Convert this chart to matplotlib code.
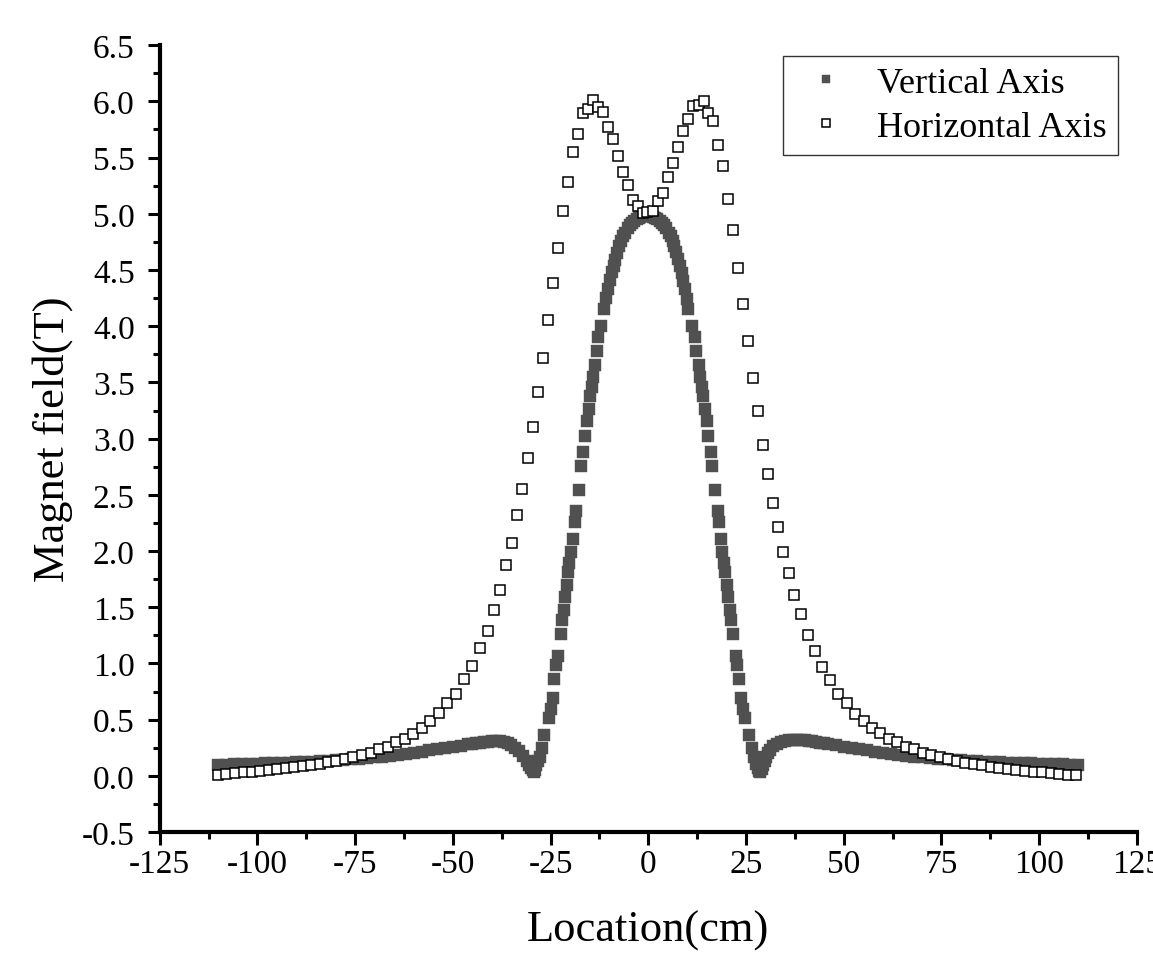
import numpy as np
import matplotlib
matplotlib.use("Agg")
import matplotlib.pyplot as plt
from matplotlib.ticker import MultipleLocator

# ---------------- data ---------------- #
# Vertical Axis (filled squares): location (cm) and field (T)
vert_x = [
    -110, -108, -106, -104, -102, -100, -98, -96, -94, -92, -90, -88, -86, -84,
    -82, -80, -78, -76, -74, -72, -70, -68, -66, -64, -62, -60, -58, -56, -54,
    -52, -50, -48, -46, -45, -44, -43, -42, -41, -40, -39, -38, -37, -36, -35,
    -34, -33, -32, -31, -30.5, -30, -29.6, -29.3, -29.0, -28.6, -28.2,
    -27.77, -27.18, -26.57, -25.47, -24.96, -24.44, -24.11, -23.5, -23.17,
    -22.4, -22.07, -21.63, -21.2, -20.87, -20.54, -20.18, -19.77, -19.34,
    -18.83, -18.49, -17.8, -17.11, -16.7, -16.09, -15.68, -15.25, -14.81,
    -14.48, -14.15, -13.64, -13.0, -12.75, -12.0, -11.24,
    -10.8, -10.3, -9.8, -9.3, -8.86, -8.4, -7.9, -7.41, -6.9, -6.4, -5.88,
    -5.3, -4.8, -4.19, -3.6, -3.0, -2.48, -2.0, -1.4, -0.9, -0.36, 0.2, 0.7,
    1.2, 1.79, 2.3, 2.9, 3.48, 4.0, 4.6, 5.19, 5.7, 6.2, 6.64, 7.1, 7.6, 8.17,
    8.6, 9.0, 9.45, 9.9,
    10.29, 11.24, 11.83, 12.16, 12.93, 13.36, 13.69, 14.1, 14.56, 14.98, 15.4,
    16.0, 16.43, 17.11, 17.79, 18.13, 18.64, 18.98, 19.32, 19.67, 20.08, 20.51,
    20.94, 21.28, 21.61, 22.38, 22.72, 23.32, 23.75, 24.27, 24.78, 25.87, 26.46,
    27.08, 27.6, 28.0, 28.3, 28.6, 29.0, 29.4, 29.8, 30.2, 30.7, 31.2, 32, 33,
    34, 35, 36, 37, 38, 39, 40, 41, 42, 43, 44, 45, 46, 48, 50, 52, 54, 56, 58,
    60, 62, 64, 66, 68, 70, 72, 74, 76, 78, 80, 82, 84, 86, 88, 90, 92, 94, 96,
    98, 100, 102, 104, 106, 108, 110,
]
vert_b = [
    0.100, 0.101, 0.103, 0.105, 0.107, 0.109, 0.111, 0.113, 0.116, 0.118, 0.121,
    0.124, 0.127, 0.130, 0.134, 0.138, 0.142, 0.147, 0.152, 0.158, 0.164, 0.171,
    0.178, 0.186, 0.195, 0.205, 0.215, 0.226, 0.237, 0.248, 0.259, 0.270, 0.281,
    0.286, 0.291, 0.296, 0.301, 0.305, 0.308, 0.309, 0.307, 0.300, 0.290, 0.275,
    0.250, 0.218, 0.180, 0.130, 0.098, 0.070, 0.048, 0.035, 0.055, 0.095, 0.135,
    0.170, 0.250, 0.362, 0.511, 0.599, 0.694, 0.860, 0.984, 1.067,
    1.259, 1.384, 1.472, 1.591, 1.701, 1.813, 1.896, 1.996, 2.109,
    2.257, 2.352, 2.547, 2.760, 2.879, 3.027, 3.160, 3.264, 3.376,
    3.456, 3.545, 3.657, 3.780, 3.900, 4.004, 4.152,
    4.250, 4.330, 4.410, 4.480, 4.536, 4.590, 4.650, 4.714, 4.760, 4.800, 4.833,
    4.870, 4.900, 4.922, 4.940, 4.955, 4.966, 4.975, 4.982, 4.986, 4.987, 4.985,
    4.982, 4.975, 4.966, 4.955, 4.940, 4.922, 4.900, 4.870, 4.833, 4.800, 4.760,
    4.714, 4.660, 4.600, 4.536, 4.470, 4.400, 4.330, 4.240,
    4.152, 4.004, 3.900, 3.780, 3.657, 3.545, 3.456, 3.376, 3.264, 3.160, 3.027,
    2.879, 2.760, 2.547, 2.352, 2.257, 2.109, 1.996, 1.896, 1.813, 1.701, 1.591,
    1.472, 1.384, 1.259, 1.067, 0.984, 0.860, 0.694, 0.599, 0.511, 0.362, 0.250,
    0.170, 0.110, 0.070, 0.045, 0.035, 0.060, 0.095, 0.130, 0.165, 0.200, 0.230,
    0.262, 0.288, 0.303, 0.313, 0.318, 0.320, 0.320, 0.318, 0.315, 0.311, 0.306,
    0.301, 0.296, 0.290, 0.284, 0.272, 0.260, 0.248, 0.237, 0.226, 0.215, 0.205,
    0.195, 0.186, 0.178, 0.171, 0.164, 0.158, 0.152, 0.147, 0.142, 0.138, 0.134,
    0.130, 0.127, 0.124, 0.121, 0.118, 0.116, 0.113, 0.111, 0.109, 0.107, 0.105,
    0.103, 0.101, 0.100,
]

# Horizontal Axis (open squares)
horiz_x = [
    -110.0, -107.97, -105.75, -103.55, -101.4, -99.21, -96.99, -94.86, -92.72,
    -90.52, -88.38, -86.18, -84.03, -81.91, -79.79, -77.57, -75.45, -73.23,
    -71.01, -68.89, -66.67, -64.55, -62.33, -60.13, -57.98, -55.86, -53.64,
    -51.44, -49.22, -47.10, -45.06, -43.09, -41.05, -39.52, -37.81, -36.37,
    -34.84, -33.46, -32.19, -30.83, -29.55, -28.28, -27.0, -25.72, -24.44,
    -23.17, -21.89, -20.61, -19.34, -17.98, -16.78, -15.43, -14.15, -12.87,
    -11.60, -10.32, -9.04, -7.76, -6.49, -5.21, -3.83, -2.55, -1.40, -0.30,
    1.30, 2.58, 3.78, 5.11, 6.39, 7.66, 8.94, 10.22, 11.57, 12.85, 14.13, 15.33,
    16.68, 17.96, 19.23, 20.51, 21.79, 23.07, 24.34, 25.62, 26.90, 28.17, 29.45,
    30.73, 32.0, 33.28, 34.56, 36.0, 37.37, 39.08, 40.77, 42.66, 44.52, 46.4,
    48.61, 50.73, 52.95, 55.08, 57.21, 59.41, 61.55, 63.76, 65.98, 68.10, 70.32,
    72.45, 74.66, 76.79, 79.0, 81.13, 83.26, 85.47, 87.69, 89.81, 92.03, 94.15,
    96.37, 98.59, 100.71, 102.94, 105.13, 107.28, 109.48,
]
horiz_b = [
    0.005, 0.016, 0.022, 0.031, 0.037, 0.046, 0.055, 0.060, 0.067,
    0.075, 0.084, 0.096, 0.105, 0.120, 0.135, 0.153, 0.164, 0.185,
    0.203, 0.235, 0.256, 0.300, 0.330, 0.377, 0.425, 0.490, 0.555,
    0.644, 0.730, 0.860, 0.979, 1.138, 1.292, 1.479, 1.650, 1.872,
    2.074, 2.320, 2.556, 2.831, 3.101, 3.415, 3.720, 4.057, 4.383,
    4.700, 5.022, 5.280, 5.552, 5.712, 5.895, 5.934, 6.011, 5.946,
    5.907, 5.774, 5.662, 5.517, 5.368, 5.253, 5.125, 5.069, 5.005, 5.020,
    5.025, 5.110, 5.185, 5.327, 5.451, 5.597, 5.739, 5.842, 5.957, 5.966, 6.002, 5.899,
    5.824, 5.608, 5.422, 5.129, 4.853, 4.522, 4.196, 3.870, 3.542, 3.246, 2.944,
    2.689, 2.423, 2.213, 1.991, 1.807, 1.609, 1.437, 1.250, 1.112, 0.966, 0.851,
    0.730, 0.644, 0.552, 0.490, 0.425, 0.380, 0.330, 0.300, 0.259, 0.235, 0.206,
    0.185, 0.164, 0.147, 0.132, 0.114, 0.105, 0.093, 0.082, 0.073, 0.064, 0.055,
    0.046, 0.037, 0.031, 0.022, 0.016, 0.011, 0.004,
]

x_ticks = [-125, -100, -75, -50, -25, 0, 25, 50, 75, 100, 125]
y_ticks = [-0.5, 0.0, 0.5, 1.0, 1.5, 2.0, 2.5, 3.0, 3.5, 4.0, 4.5, 5.0, 5.5, 6.0, 6.5]

# ---------------- figure ---------------- #
plt.rcParams['font.family'] = ['Liberation Serif', 'DejaVu Serif']
plt.rcParams['axes.unicode_minus'] = False

fig = plt.figure(figsize=(11.53, 9.62), dpi=100)
ax = fig.add_axes([0.1385, 0.134, 0.8475, 0.818])

ax.plot(vert_x, vert_b, ls='none', marker='s', ms=8.0, color='#505050',
        mec='#505050', mew=0.3, label='Vertical Axis')
ax.plot(horiz_x, horiz_b, ls='none', marker='s', ms=6.8, mfc='white',
        mec='black', mew=1.1, label='Horizontal Axis')

ax.set_xlim(-125, 125)
ax.set_ylim(-0.5, 6.5)
ax.set_xticks(x_ticks)
ax.set_yticks(y_ticks)
ax.set_yticklabels([f"{v:.1f}" for v in y_ticks])
ax.xaxis.set_minor_locator(MultipleLocator(12.5))
ax.yaxis.set_minor_locator(MultipleLocator(0.25))

for side in ['top', 'right']:
    ax.spines[side].set_visible(False)
for side in ['left', 'bottom']:
    ax.spines[side].set_linewidth(3)

ax.tick_params(which='major', direction='out', length=9, width=2.2,
               labelsize=24)
ax.tick_params(axis='y', which='major', pad=9)
ax.tick_params(axis='x', which='major', pad=3)
ax.tick_params(which='minor', direction='out', length=5, width=2.2)

ax.set_xlabel('Location(cm)', fontsize=32, labelpad=22)
ax.set_ylabel('Magnet field(T)', fontsize=32, labelpad=6)

leg = ax.legend(loc='upper right', bbox_to_anchor=(0.9803, 0.9864),
                borderaxespad=0, fontsize=26, frameon=True, fancybox=False,
                edgecolor='black', handlelength=1.76, handletextpad=0.54,
                borderpad=0.3, labelspacing=0.3, markerscale=0.8)
leg.get_frame().set_linewidth(1.0)

fig.savefig('out.png', dpi=100)
